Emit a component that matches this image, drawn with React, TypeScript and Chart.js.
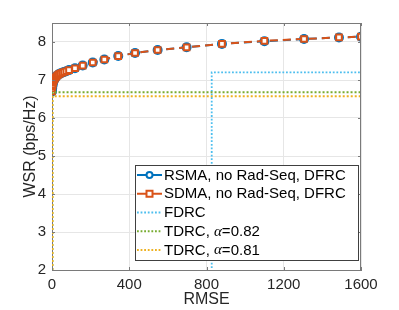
import React, { useEffect, useRef } from 'react';
import { Chart, registerables } from 'chart.js';

Chart.register(...registerables);

// ---- data ----
const rmse = [0, 1, 2, 3, 5, 7, 10, 13, 17, 22, 28, 35, 43, 52, 62, 74, 88, 119, 159, 211, 271, 343, 430, 547, 697, 880, 1100, 1305, 1486, 1600];
const rsmaWsr = [6.7, 6.78, 6.84, 6.88, 6.93, 6.97, 7.0, 7.03, 7.06, 7.09, 7.12, 7.15, 7.17, 7.19, 7.21, 7.23, 7.26, 7.31, 7.38, 7.46, 7.54, 7.63, 7.71, 7.79, 7.86, 7.95, 8.02, 8.08, 8.12, 8.14];
const sdmaWsr = [6.7, 6.78, 6.84, 6.88, 6.93, 6.97, 7.0, 7.03, 7.06, 7.09, 7.12, 7.15, 7.17, 7.19, 7.21, 7.23, 7.26, 7.31, 7.38, 7.46, 7.54, 7.63, 7.71, 7.79, 7.86, 7.95, 8.03, 8.08, 8.12, 8.14];
const fdrcX = [0, 827, 827, 1600];
const fdrcY = [0, 0, 7.2, 7.2];
const tdrc82X = [2, 2, 1600];
const tdrc82Y = [0, 6.68, 6.68];
const tdrc81X = [2, 2, 1600];
const tdrc81Y = [0, 6.57, 6.57];
const xTicks = [0, 400, 800, 1200, 1600];
const yTicks = [2, 3, 4, 5, 6, 7, 8];
const labels = [
  'RSMA, no Rad-Seq, DFRC',
  'SDMA, no Rad-Seq, DFRC',
  'FDRC',
  'TDRC, α=0.82',
  'TDRC, α=0.81',
];

const BLUE = '#0072BD';
const ORANGE = '#D95319';
const CYAN = '#4DBEEE';
const GREEN = '#77AC30';
const YELLOW = '#EDB120';
const AXIS = '#7a7a7a';
const FONT = '"Liberation Sans", Arial, Helvetica, sans-serif';

const pts = (xs: number[], ys: number[]) => xs.map((x, i) => ({ x, y: ys[i] }));

const overlay = {
  id: 'overlay',
  afterDraw(chart: any) {
    const ctx = chart.ctx as CanvasRenderingContext2D;
    const a = chart.chartArea;
    const xs = chart.scales.x;
    const ys = chart.scales.y;
    ctx.save();
    ctx.strokeStyle = AXIS;
    ctx.lineWidth = 1;
    ctx.beginPath();
    ctx.moveTo(a.left, a.top + 0.5);
    ctx.lineTo(a.right, a.top + 0.5);
    ctx.moveTo(a.right - 0.5, a.top);
    ctx.lineTo(a.right - 0.5, a.bottom);
    const tl = 3;
    xTicks.forEach((t) => {
      const px = Math.round(xs.getPixelForValue(t)) + 0.5;
      ctx.moveTo(px, a.bottom);
      ctx.lineTo(px, a.bottom - tl);
      ctx.moveTo(px, a.top);
      ctx.lineTo(px, a.top + tl);
    });
    yTicks.forEach((t) => {
      const py = Math.round(ys.getPixelForValue(t)) + 0.5;
      ctx.moveTo(a.left, py);
      ctx.lineTo(a.left + tl, py);
      ctx.moveTo(a.right, py);
      ctx.lineTo(a.right - tl, py);
    });
    ctx.stroke();

    ctx.fillStyle = '#262626';
    ctx.font = `16px ${FONT}`;
    ctx.textAlign = 'center';
    ctx.textBaseline = 'middle';
    ctx.fillText('RMSE', (a.left + a.right) / 2, 300);
    ctx.save();
    ctx.translate(31, (a.top + a.bottom) / 2);
    ctx.rotate(-Math.PI / 2);
    ctx.fillText('WSR (bps/Hz)', 0, 0);
    ctx.restore();

    const bx = 135.5, by = 165.5, bw = 223, bh = 95;
    ctx.fillStyle = '#ffffff';
    ctx.fillRect(bx, by, bw, bh);
    ctx.strokeStyle = '#404040';
    ctx.lineWidth = 1;
    ctx.strokeRect(bx, by, bw, bh);
    const colors = [BLUE, ORANGE, CYAN, GREEN, YELLOW];
    const rowY = (i: number) => 175 + i * 18.75;
    labels.forEach((lab, i) => {
      const y = rowY(i);
      ctx.strokeStyle = colors[i];
      ctx.lineWidth = i < 2 ? 2 : 1.8;
      ctx.setLineDash(i < 2 ? [] : [1.8, 1.8]);
      ctx.beginPath();
      ctx.moveTo(137, y);
      ctx.lineTo(162, y);
      ctx.stroke();
      ctx.setLineDash([]);
      if (i === 0) {
        ctx.fillStyle = '#fff';
        ctx.beginPath();
        ctx.arc(149.5, y, 3, 0, Math.PI * 2);
        ctx.fill();
        ctx.stroke();
      } else if (i === 1) {
        ctx.fillStyle = '#fff';
        ctx.fillRect(146.5, y - 3, 6, 6);
        ctx.strokeRect(146.5, y - 3, 6, 6);
      }
      ctx.fillStyle = '#000';
      ctx.textAlign = 'left';
      ctx.textBaseline = 'middle';
      let x = 164;
      const parts = lab.split('α');
      ctx.font = `15px ${FONT}`;
      ctx.fillText(parts[0], x, y + 0.5);
      if (parts.length > 1) {
        x += ctx.measureText(parts[0]).width;
        ctx.font = `italic 15px "Liberation Serif", "DejaVu Serif", serif`;
        ctx.fillText('α', x, y + 0.5);
        x += ctx.measureText('α').width;
        ctx.font = `15px ${FONT}`;
        ctx.fillText(parts[1], x, y + 0.5);
      }
    });
    ctx.restore();
  },
};

export default function App() {
  const ref = useRef<HTMLCanvasElement | null>(null);
  useEffect(() => {
    document.body.style.margin = '0';
    const canvas = ref.current!;
    const chart = new Chart(canvas, {
      type: 'line',
      data: {
        datasets: [
          {
            label: labels[0],
            data: pts(rmse, rsmaWsr),
            borderColor: BLUE,
            borderWidth: 2,
            borderDash: [8, 5],
            pointStyle: 'circle',
            pointRadius: 4,
            pointBorderWidth: 2,
            pointBackgroundColor: '#ffffff',
            pointBorderColor: BLUE,
            order: 5,
          },
          {
            label: labels[1],
            data: pts(rmse, sdmaWsr),
            borderColor: ORANGE,
            borderWidth: 2,
            borderDash: [8, 5],
            pointStyle: 'rect',
            pointRadius: 4,
            pointBorderWidth: 2,
            pointBackgroundColor: '#ffffff',
            pointBorderColor: ORANGE,
            order: 4,
          },
          {
            label: labels[2],
            data: pts(fdrcX, fdrcY),
            borderColor: CYAN,
            borderWidth: 1.8,
            borderDash: [1.8, 1.8],
            pointRadius: 0,
            order: 3,
          },
          {
            label: labels[3],
            data: pts(tdrc82X, tdrc82Y),
            borderColor: GREEN,
            borderWidth: 2,
            borderDash: [2, 2],
            pointRadius: 0,
            order: 2,
          },
          {
            label: labels[4],
            data: pts(tdrc81X, tdrc81Y),
            borderColor: YELLOW,
            borderWidth: 2,
            borderDash: [2, 2],
            pointRadius: 0,
            order: 1,
          },
        ],
      },
      options: {
        animation: false,
        responsive: false,
        events: [],
        layout: { padding: { top: 23, right: 38, left: 0, bottom: 0 } },
        plugins: { legend: { display: false }, tooltip: { enabled: false } },
        scales: {
          x: {
            type: 'linear',
            min: 0,
            max: 1600,
            afterFit: (s: any) => { s.height = 40; },
            afterBuildTicks: (s: any) => { s.ticks = xTicks.map((v) => ({ value: v })); },
            ticks: { color: '#262626', font: { size: 15, family: FONT }, padding: 6, maxRotation: 0, callback: (v: any) => String(v) },
            grid: { color: '#e6e6e6', drawTicks: false },
            border: { display: true, color: AXIS },
          },
          y: {
            type: 'linear',
            min: 2,
            max: 8.5,
            afterFit: (s: any) => { s.width = 52; },
            afterBuildTicks: (s: any) => { s.ticks = yTicks.map((v) => ({ value: v })); },
            ticks: { color: '#262626', font: { size: 15, family: FONT }, padding: 6, callback: (v: any) => String(v) },
            grid: { color: '#e6e6e6', drawTicks: false },
            border: { display: true, color: AXIS },
          },
        },
      },
      plugins: [overlay],
    } as any);
    return () => chart.destroy();
  }, []);
  return (
    <div style={{ width: 399, height: 310, background: '#fff' }}>
      <canvas ref={ref} width={399} height={310} style={{ display: 'block' }} />
    </div>
  );
}
